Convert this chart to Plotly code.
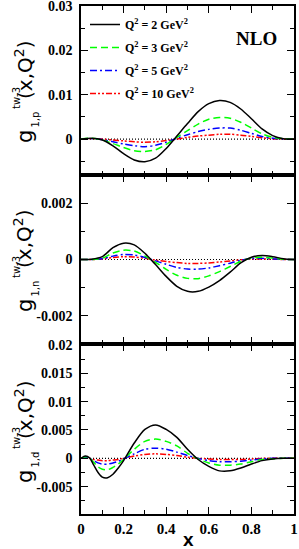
import plotly.graph_objects as go

# ---------------- data ----------------
P_X = [0.0, 0.05, 0.1, 0.15, 0.2, 0.25, 0.3, 0.35, 0.4, 0.45, 0.5,
       0.55, 0.6, 0.65, 0.7, 0.75, 0.8, 0.85, 0.9, 0.95, 1.0]
P_Q2_2 = [0, 0.0002, -0.0002, -0.0015, -0.0033, -0.0047, -0.0051, -0.0043, -0.0021, 0.0007, 0.0035,
          0.0062, 0.0080, 0.0087, 0.0083, 0.0068, 0.0046, 0.0023, 0.0008, 0.0001, 0]
P_Q2_3 = [0, 0.0002, -0.0002, -0.0010, -0.0019, -0.0026, -0.0028, -0.0024, -0.0012, 0.0004, 0.0019,
          0.0034, 0.0045, 0.0049, 0.0047, 0.0038, 0.0025, 0.0012, 0.0004, 0.0001, 0]
P_Q2_5 = [0, 0.0001, -0.0001, -0.0006, -0.0011, -0.0015, -0.0017, -0.0014, -0.0007, 0.0002, 0.0010,
          0.0017, 0.0022, 0.0025, 0.0025, 0.0020, 0.0013, 0.0006, 0.0002, 0.0000, 0]
P_Q2_10 = [0, 0.0001, 0.0000, -0.0002, -0.0004, -0.0006, -0.0007, -0.0006, -0.0003, 0.0000, 0.0004,
           0.0007, 0.0009, 0.0011, 0.0011, 0.0009, 0.0006, 0.0003, 0.0001, 0.0000, 0]

N_X = P_X
N_Q2_2 = [0, 0.00001, 0.0001, 0.00042, 0.00058, 0.00052, 0.00022, -0.00018, -0.0006, -0.00095, -0.00113,
          -0.00113, -0.00098, -0.00075, -0.00045, -0.00012, 0.00008, 0.00014, 0.0001, 0.00003, 0]
N_Q2_3 = [0, 0.0, 0.00005, 0.00023, 0.00033, 0.0003, 0.00012, -0.0001, -0.00035, -0.00056, -0.00067,
          -0.00068, -0.00058, -0.00043, -0.00025, -0.00006, 0.00005, 0.00008, 0.00005, 0.00001, 0]
N_Q2_5 = [0, 0.0, 0.00003, 0.00012, 0.00018, 0.00016, 0.00007, -0.00005, -0.00017, -0.00028, -0.00034,
          -0.00034, -0.0003, -0.00022, -0.00013, -0.00003, 0.00003, 0.00004, 0.00003, 0.0, 0]
N_Q2_10 = [0, 0.0, 0.00002, 0.00007, 0.0001, 0.00009, 0.00004, -0.00002, -0.00007, -0.00011, -0.00014,
           -0.00014, -0.00012, -0.00009, -0.00005, -0.00001, 0.00001, 0.00002, 0.00001, 0.0, 0]

D_X = [0.0, 0.02, 0.04, 0.06, 0.08, 0.1, 0.125, 0.15, 0.175, 0.2, 0.25, 0.3, 0.35,
       0.4, 0.45, 0.5, 0.55, 0.6, 0.65, 0.7, 0.75, 0.8, 0.85, 0.9, 0.95, 1.0]
D_Q2_2 = [0, 0.0004, 0.0001, -0.0012, -0.0025, -0.0033, -0.0034, -0.0028, -0.0017, -0.0004, 0.0027, 0.0051, 0.0059,
          0.0051, 0.0037, 0.0016, -0.0002, -0.0014, -0.0022, -0.0022, -0.0017, -0.0010, -0.0004, -0.0001, 0, 0]
D_Q2_3 = [0, 0.0003, 0.0001, -0.0007, -0.0015, -0.0019, -0.0020, -0.0016, -0.0010, -0.0002, 0.0016, 0.0030, 0.0034,
          0.0030, 0.0022, 0.0009, -0.0001, -0.0008, -0.0012, -0.0012, -0.0010, -0.0006, -0.0002, -0.0001, 0, 0]
D_Q2_5 = [0, 0.0002, 0.0, -0.0004, -0.0008, -0.0010, -0.0010, -0.0008, -0.0005, -0.0001, 0.0008, 0.0016, 0.0018,
          0.0016, 0.0011, 0.0005, 0.0, -0.0004, -0.0006, -0.0006, -0.0005, -0.0003, -0.0001, 0, 0, 0]
D_Q2_10 = [0, 0.0001, 0.0, -0.0002, -0.0003, -0.0004, -0.0004, -0.0003, -0.0002, 0.0, 0.0004, 0.0007, 0.0008,
           0.0007, 0.0005, 0.0002, 0.0, -0.0001, -0.0002, -0.0002, -0.0002, -0.0001, 0, 0, 0, 0]

ZERO_X = [0.0, 1.0]
ZERO_Y = [0.0, 0.0]

SERIES_NAMES = ["Q<sup>2</sup> = 2 GeV<sup>2</sup>", "Q<sup>2</sup> = 3 GeV<sup>2</sup>",
                "Q<sup>2</sup> = 5 GeV<sup>2</sup>", "Q<sup>2</sup> = 10 GeV<sup>2</sup>"]
PANEL_SUBS = ["1,p", "1,n", "1,d"]

X_TICKVALS = [0, 0.2, 0.4, 0.6, 0.8, 1.0]
X_TICKTEXT = ["0", "0.2", "0.4", "0.6", "0.8", "1"]
P_TICKVALS = [0, 0.01, 0.02, 0.03]
P_TICKTEXT = ["0", "0.01", "0.02", "0.03"]
N_TICKVALS = [-0.002, 0, 0.002]
N_TICKTEXT = ["-0.002", "0", "0.002"]
D_TICKVALS = [-0.005, 0, 0.005, 0.01, 0.015, 0.02]
D_TICKTEXT = ["-0.005", "0", "0.005", "0.01", "0.015", "0.02"]

# ---------------- styling ----------------
COLORS = ["#000000", "#00ff00", "#0000ff", "#ff0000"]
DASHES = ["solid", "7px,4px", "7px,3px,2px,3px", "6px,2px,2px,2px,2px,2px"]
W, H = 299, 549
L, R, T, B = 81, 5, 6, 35
PW, PH = W - L - R, H - T - B


def px_x(px):
    return (px - L) / PW


def px_y(py):
    return (H - B - py) / PH


fig = go.Figure()

panels = [
    ("x", "y", P_X, [P_Q2_2, P_Q2_3, P_Q2_5, P_Q2_10], True),
    ("x2", "y2", N_X, [N_Q2_2, N_Q2_3, N_Q2_5, N_Q2_10], False),
    ("x3", "y3", D_X, [D_Q2_2, D_Q2_3, D_Q2_5, D_Q2_10], False),
]

for xa, ya, xs, series, legend in panels:
    fig.add_trace(go.Scatter(x=ZERO_X, y=ZERO_Y, mode="lines", xaxis=xa, yaxis=ya,
                             line=dict(color="black", width=1.2, dash="1px,2px"),
                             showlegend=False, hoverinfo="skip"))
    for i in range(3, -1, -1):
        fig.add_trace(go.Scatter(
            x=xs, y=series[i], mode="lines", xaxis=xa, yaxis=ya,
            name=SERIES_NAMES[i], legendgroup="g%d" % i, legendrank=i + 1,
            showlegend=legend,
            line=dict(color=COLORS[i], width=1.5, dash=DASHES[i], shape="spline", smoothing=0.8)))

tickfont = dict(family="Liberation Serif", size=14, color="black", weight="bold")
axis_common = dict(showline=True, linecolor="black", linewidth=1.5, mirror="allticks",
                   ticks="inside", ticklen=7, tickwidth=1.2, tickcolor="black",
                   showgrid=False, zeroline=False, tickfont=tickfont, tickmode="array",
                   automargin=False, ticklabeloverflow="allow")

dom = [[px_y(175), 1.0], [px_y(344), px_y(175)], [0.0, px_y(344)]]
yranges = [[-0.0081, 0.03005], [-0.003, 0.003], [-0.0098, 0.02015]]
yticks = [(P_TICKVALS, P_TICKTEXT, 0.005), (N_TICKVALS, N_TICKTEXT, 0.001), (D_TICKVALS, D_TICKTEXT, 0.0025)]

layout_axes = {}
for k in range(3):
    sfx = "" if k == 0 else str(k + 1)
    layout_axes["xaxis" + sfx] = dict(
        axis_common, domain=[0, 1], range=[0, 1], anchor="y" + sfx,
        tickvals=X_TICKVALS, ticktext=X_TICKTEXT, showticklabels=(k == 2),
        tickfont=dict(tickfont, size=15),
        minor=dict(ticks="inside", ticklen=4, tickwidth=1.2, dtick=0.1, tick0=0, tickcolor="black"))
    tv, tt, mdt = yticks[k]
    layout_axes["yaxis" + sfx] = dict(
        axis_common, domain=dom[k], range=yranges[k], anchor="x" + sfx,
        tickvals=tv, ticktext=tt, ticklabelstandoff=4,
        minor=dict(ticks="inside", ticklen=4, tickwidth=1.2, dtick=mdt, tick0=0, tickcolor="black"))

fig.update_layout(**layout_axes)

# y-axis labels built from pieces (stacked super/subscript)
annotations = []
label_font = "DejaVu Sans"
centers = [90.5, 259.5, 430.5]
for k in range(3):
    c = centers[k]
    annotations += [
        dict(text="g", x=px_x(24.5), y=px_y(c + 46), font=dict(family=label_font, size=21, color="black")),
        dict(text=PANEL_SUBS[k], x=px_x(34.5), y=px_y(c + 29.5), font=dict(family=label_font, size=10, color="black")),
        dict(text="tw-3", x=px_x(16.5), y=px_y(c + 8), font=dict(family=label_font, size=10, color="black")),
        dict(text="(x,Q<sup>2</sup>)", x=px_x(23.5), y=px_y(c - 20), font=dict(family=label_font, size=20, color="black")),
    ]
for a in annotations:
    a.update(xref="paper", yref="paper", showarrow=False, textangle=-90, xanchor="center", yanchor="middle")

annotations.append(dict(text="x", x=px_x(188), y=px_y(539), xref="paper", yref="paper", showarrow=False,
                        xanchor="center", yanchor="middle",
                        font=dict(family="Liberation Sans", size=19, color="black", weight="bold")))
annotations.append(dict(text="NLO", x=px_x(256), y=px_y(38.5), xref="paper", yref="paper", showarrow=False,
                        xanchor="center", yanchor="middle",
                        font=dict(family="Liberation Serif", size=19, color="black", weight="bold")))

fig.update_layout(
    width=W, height=H, margin=dict(l=L, r=R, t=T, b=B, autoexpand=False),
    paper_bgcolor="white", plot_bgcolor="white",
    annotations=annotations,
    legend=dict(x=px_x(85), y=px_y(10), xanchor="left", yanchor="top",
                bgcolor="rgba(0,0,0,0)", borderwidth=0, tracegroupgap=4,
                font=dict(family="Liberation Serif", size=12, color="black", weight="bold")),
)

# the page's default body margin would shift the figure; remove it
fig.write_html("out.html", config={"displayModeBar": False},
               post_script="document.body.style.margin='0px';document.body.style.overflow='hidden';")
